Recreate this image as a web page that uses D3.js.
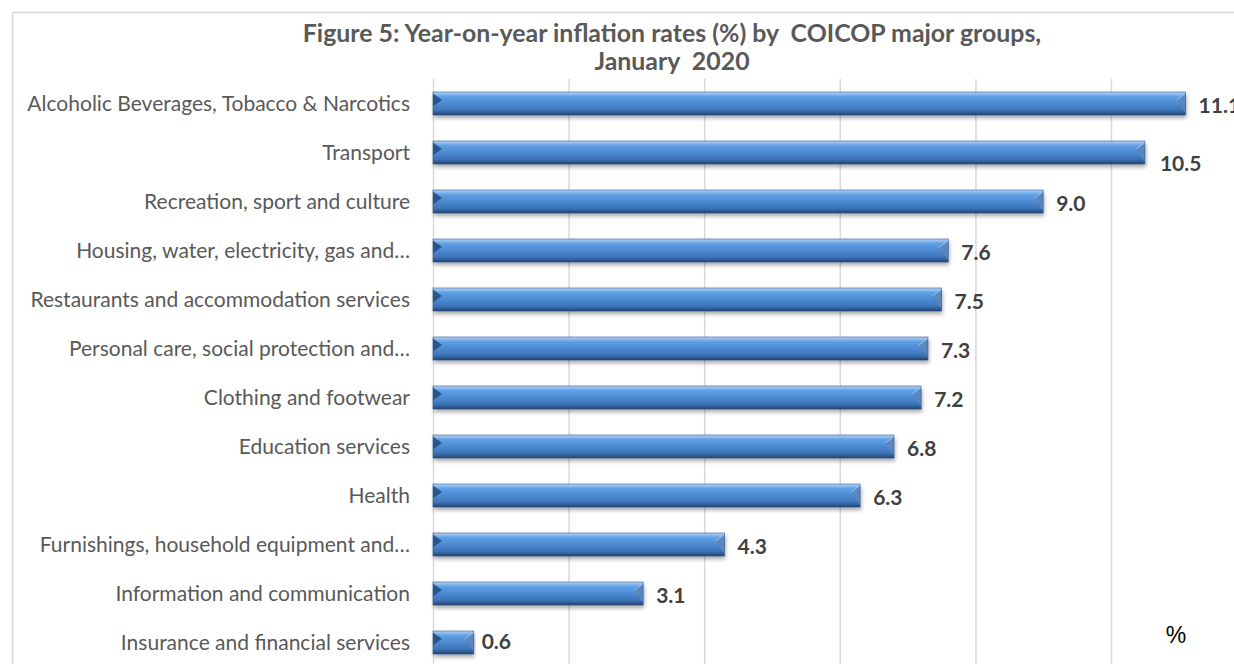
<!DOCTYPE html>
<html>
<head>
<meta charset="utf-8">
<script src="https://cdn.jsdelivr.net/npm/d3@7"></script>
<style>
  html, body { margin: 0; padding: 0; background: #fff; }
  svg { display: block; }
</style>
</head>
<body>
<svg id="chart" width="1234" height="664"></svg>
<script>
// ---- data ----
const categories = [
  "Alcoholic Beverages, Tobacco & Narcotics",
  "Transport",
  "Recreation, sport and culture",
  "Housing, water, electricity, gas and\u2026",
  "Restaurants and accommodation services",
  "Personal care, social protection and\u2026",
  "Clothing and footwear",
  "Education services",
  "Health",
  "Furnishings, household equipment and\u2026",
  "Information and communication",
  "Insurance and financial services"
];
const values = [11.1, 10.5, 9.0, 7.6, 7.5, 7.3, 7.2, 6.8, 6.3, 4.3, 3.1, 0.6];
const xTicks = [0, 2, 4, 6, 8, 10, 12];
const titleLines = ["Figure 5: Year-on-year inflation rates (%) by  COICOP major groups,", "January  2020"];
const unitLabel = "%";

// ---- layout ----
const svg = d3.select("#chart");
const W = 1234, H = 664;
const plotLeft = 433, plotTop = 79, plotBottom = 667;
const pxPerUnit = 67.8;

const x = d3.scaleLinear().domain([0, 12]).range([plotLeft, plotLeft + 12 * pxPerUnit]);
const y = d3.scaleBand().domain(categories).range([plotTop, plotBottom])
  .paddingInner(0.53).paddingOuter(0.265);

const defs = svg.append("defs");
const grad = defs.append("linearGradient").attr("id", "barGrad")
  .attr("x1", 0).attr("y1", 0).attr("x2", 0).attr("y2", 1);
[[0, "#b3d4f7"], [0.08, "#93c0f0"], [0.2, "#5f9fe4"], [0.5, "#4c8ad2"],
 [0.78, "#3e74b8"], [0.9, "#305c96"], [1, "#213f6a"]].forEach(([o, c]) =>
  grad.append("stop").attr("offset", o).attr("stop-color", c));

const shadow = defs.append("filter").attr("id", "shadow")
  .attr("x", "-5%").attr("y", "-30%").attr("width", "110%").attr("height", "180%");
shadow.append("feDropShadow").attr("dx", 1).attr("dy", 3).attr("stdDeviation", 2)
  .attr("flood-color", "#000").attr("flood-opacity", 0.35);

// frame
svg.append("rect").attr("x", 12.5).attr("y", 12.5).attr("width", W).attr("height", H)
  .attr("fill", "none").attr("stroke", "#d9d9d9").attr("stroke-width", 1.5);

// gridlines
const grid = svg.append("g").attr("transform", `translate(0,${plotTop})`)
  .call(d3.axisBottom(x).tickValues(xTicks).tickSize(H - plotTop + 10).tickFormat(""));
grid.select(".domain").remove();
grid.selectAll(".tick line").attr("stroke", "#d9d9d9").attr("stroke-width", 1.5);

// bars
const bars = svg.append("g").selectAll("g.bar").data(values).join("g").attr("class", "bar");
bars.each(function (v, i) {
  const g = d3.select(this);
  const x0 = x(0), x1 = x(v), y0 = y(categories[i]), h = y.bandwidth();
  const b = Math.min(9, (x1 - x0) / 2);
  g.append("rect").attr("x", x0).attr("y", y0).attr("width", x1 - x0).attr("height", h)
    .attr("fill", "url(#barGrad)").attr("filter", "url(#shadow)");
  // left bevel facet
  g.append("polygon")
    .attr("points", [[x0, y0 + 1.5], [x0 + b, y0 + 8], [x0, y0 + h * 0.62]].join(" "))
    .attr("fill", "#1f4a80").attr("opacity", 0.85);
  // right bevel facet
  g.append("polygon")
    .attr("points", [[x1, y0 + 1.5], [x1 - b, y0 + 8], [x1, y0 + h - 2]].join(" "))
    .attr("fill", "#5d86bb").attr("opacity", 0.9);
  g.append("line").attr("x1", x1 - b).attr("y1", y0 + 8).attr("x2", x1).attr("y2", y0 + 1.5)
    .attr("stroke", "#9cc4ee").attr("stroke-width", 1);
  g.append("rect").attr("x", x0).attr("y", y0).attr("width", x1 - x0).attr("height", h)
    .attr("fill", "none").attr("stroke", "#2c5389").attr("stroke-width", 0.8).attr("opacity", 0.7);
});

// helper: fit font size to a target width
function fitSize(text, family, weight, targetWidth) {
  const t = svg.append("text").attr("font-family", family).attr("font-weight", weight)
    .attr("font-size", 20).text(text);
  const w = t.node().getComputedTextLength();
  t.remove();
  return 20 * targetWidth / w;
}

// category labels
const labelFont = "Lato, 'Open Sans', sans-serif";
const labelSize = fitSize(categories[0], labelFont, 400, 383);
svg.append("g").selectAll("text").data(categories).join("text")
  .attr("x", 410).attr("y", d => y(d) + y.bandwidth() / 2 + 7)
  .attr("text-anchor", "end").attr("font-family", labelFont)
  .attr("font-size", labelSize).attr("fill", "#595959").text(d => d);

// value labels
const nudge = { 1: [2, 9], 11: [-5, -3] };
svg.append("g").selectAll("text").data(values).join("text")
  .attr("x", (d, i) => x(d) + 13 + (nudge[i] ? nudge[i][0] : 0))
  .attr("y", (d, i) => y(categories[i]) + y.bandwidth() / 2 + 9.5 + (nudge[i] ? nudge[i][1] : 0))
  .attr("font-family", labelFont).attr("font-weight", 700).attr("font-size", 21)
  .attr("fill", "#404040").text(d => d3.format(".1f")(d));

// title
const titleSize = fitSize(titleLines[0], labelFont, 700, 733);
svg.append("text").attr("x", 672).attr("y", 42).attr("text-anchor", "middle")
  .attr("font-family", labelFont).attr("font-weight", 700).attr("font-size", titleSize)
  .attr("fill", "#595959").style("white-space", "pre").text(titleLines[0]);
svg.append("text").attr("x", 672).attr("y", 70).attr("text-anchor", "middle")
  .attr("font-family", labelFont).attr("font-weight", 700).attr("font-size", titleSize)
  .attr("fill", "#595959").style("white-space", "pre").text(titleLines[1]);

// unit label
svg.append("text").attr("x", 1176).attr("y", 643).attr("text-anchor", "middle")
  .attr("font-family", "'Liberation Sans', Arial, sans-serif").attr("font-size", 23)
  .attr("fill", "#000").text(unitLabel);
</script>
</body>
</html>
